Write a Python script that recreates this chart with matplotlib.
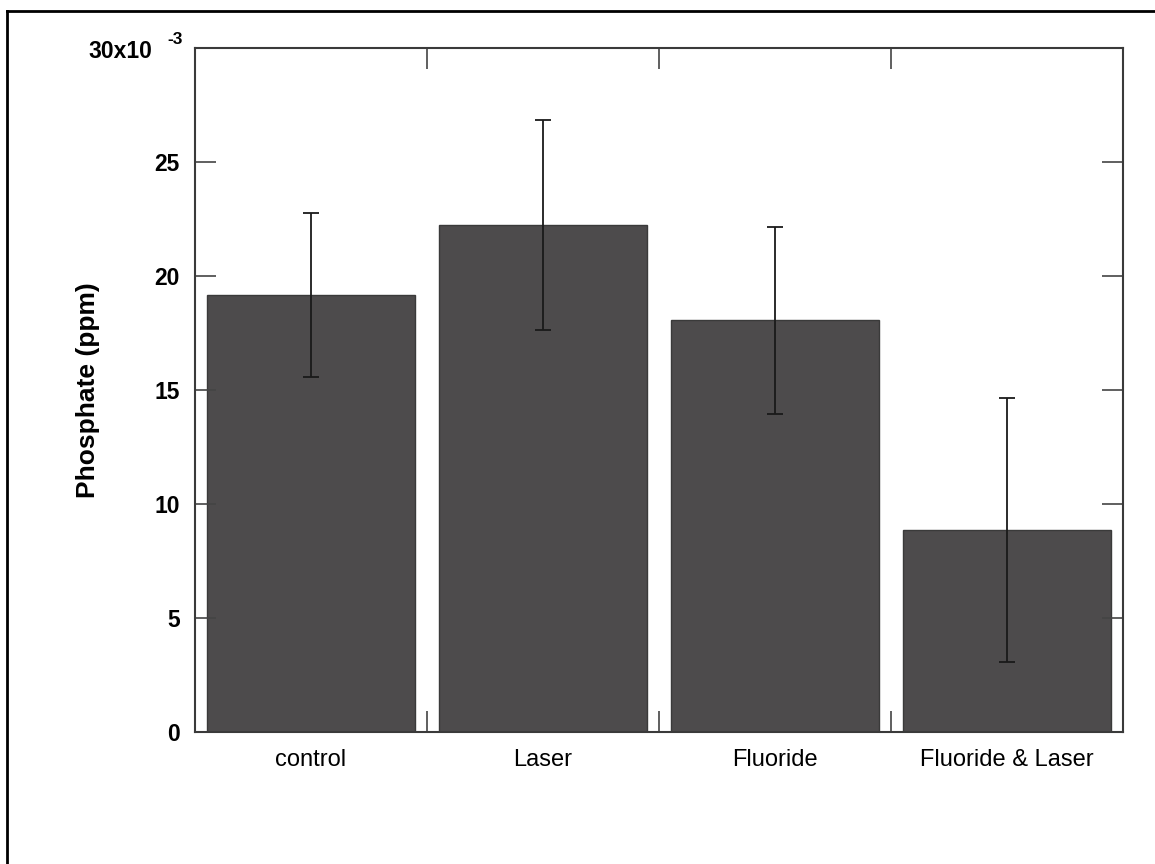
import matplotlib.pyplot as plt
from matplotlib.lines import Line2D

plt.rcParams['font.family'] = ['Liberation Sans', 'DejaVu Sans']

# data (x10^-3 ppm)
groups = ['control', 'Laser', 'Fluoride', 'Fluoride & Laser']
phosphate = [19.15, 22.25, 18.05, 8.85]
phosphate_err = [3.6, 4.6, 4.1, 5.8]
yticks = [0, 5, 10, 15, 20, 25, 30]
ytick_labels = ['0', '5', '10', '15', '20', '25', '']

fig = plt.figure(figsize=(11.55, 8.64), dpi=100)
ax = fig.add_axes([0.1688, 0.1528, 0.8035, 0.7916])

x = list(range(len(groups)))
ax.bar(x, phosphate, width=0.9, color='#4d4b4c', edgecolor='#3a3a3a', linewidth=1.0)
ax.errorbar(x, phosphate, yerr=phosphate_err, fmt='none', ecolor='#1a1a1a',
            elinewidth=1.3, capsize=6, capthick=1.3)

ax.set_xlim(-0.5, len(groups) - 0.5)
ax.set_ylim(0, 30)

ax.set_yticks(yticks)
ax.set_yticklabels(ytick_labels, fontsize=16.5, fontweight='bold')
ax.set_xticks(x)
ax.set_xticklabels(groups, fontsize=17)
ax.set_xticks([i + 0.5 for i in range(-1, len(groups))], minor=True)

ax.tick_params(axis='y', which='major', direction='in', length=15, width=1.2,
               right=True, pad=11, color='#444444')
ax.tick_params(axis='x', which='major', length=0, pad=12)
ax.tick_params(axis='x', which='minor', direction='in', length=15, width=1.2,
               top=True, color='#444444')

for s in ax.spines.values():
    s.set_linewidth(1.5)
    s.set_color('#3a3a3a')

ax.set_ylabel('Phosphate (ppm)', fontsize=19, fontweight='bold')
ax.yaxis.set_label_coords(-0.102, 0.5)

# top tick label with exponent
ax.text(152 / 1155, 1 - 52 / 864, '30x10', transform=fig.transFigure,
        ha='right', va='center', fontsize=16.5, fontweight='bold')
ax.text(167 / 1155, 1 - 39 / 864, '-3', transform=fig.transFigure,
        ha='left', va='center', fontsize=12.5, fontweight='bold')

# scan frame (top and left edge)
fig.add_artist(Line2D([7 / 1155, 1.0], [1 - 11 / 864, 1 - 11 / 864],
                      transform=fig.transFigure, color='black', linewidth=2))
fig.add_artist(Line2D([7 / 1155, 7 / 1155], [0.0, 1 - 11 / 864],
                      transform=fig.transFigure, color='black', linewidth=2))

fig.savefig('out.png', dpi=100)
